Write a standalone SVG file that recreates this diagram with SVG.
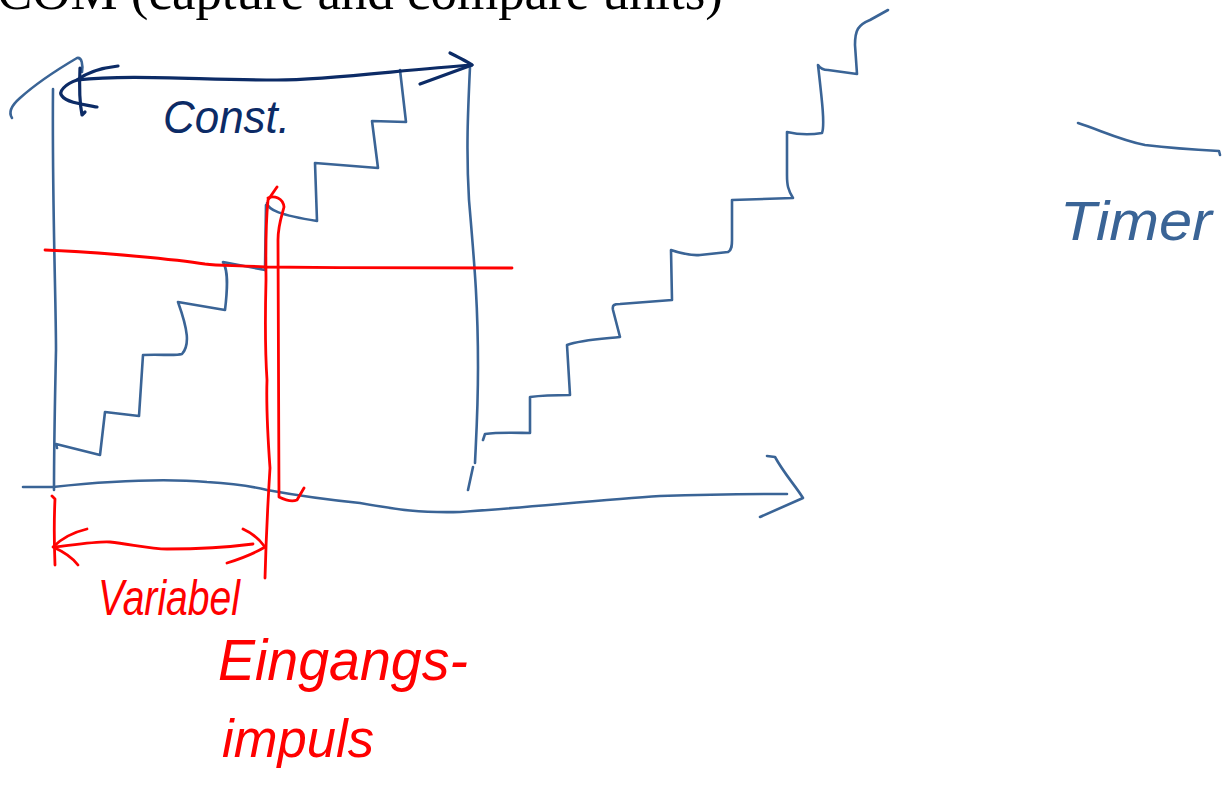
<svg xmlns="http://www.w3.org/2000/svg" width="1232" height="811" viewBox="0 0 1232 811">
<style>
.b{fill:none;stroke:#3a6496;stroke-width:2.6;stroke-linecap:round;stroke-linejoin:round}
.n{fill:none;stroke:#0c2b66;stroke-width:3.2;stroke-linecap:round;stroke-linejoin:round}
.r{fill:none;stroke:#ff0000;stroke-width:2.8;stroke-linecap:round;stroke-linejoin:round}
.hw{font-family:"Liberation Sans","DejaVu Sans",sans-serif;font-style:italic}
</style>
<rect width="1232" height="811" fill="#ffffff"/>
<g id="title">
<text x="-3" y="9" font-family="Liberation Serif, serif" font-size="53" fill="#000000" textLength="726" lengthAdjust="spacingAndGlyphs">COM (capture and compare units)</text>
</g>
<g id="connectors">
<!-- axes -->
<path class="b" d="M53,89 C52,200 56,300 56,350 C55,400 54,440 54,490"/>
<path class="b" d="M23,487 L53,487 C100,482 160,478 207,482 C240,484 255,487 267,490 C300,496 330,500 360,503 C400,510 420,513 460,512 C520,508 600,500 660,496 C720,494 760,494 787,494"/>
<path class="b" d="M767,456 L775,457 C785,475 795,485 803,498 L760,517"/>
<path class="b" d="M470,67 C468,110 466,150 469,200 C474,260 478,300 478,367 C478,410 476,440 475,463 M473,467 L468,490"/>
<path class="b" d="M12,118 C8,112 12,105 20,98 C40,80 60,68 77,58 C82,57 83,65 82,72"/>
<!-- staircases -->
<path class="b" d="M57,448 L56,444 L100,455 L105,412 L139,416 L143,355 C160,354 175,356 182,354 C190,345 188,330 178,302 L225,310 C228,285 228,270 223,262 L265,270"/>
<path class="b" d="M266,205 L265,270"/>
<path class="b" d="M267,203 C268,210 280,215 317,221 L315,163 L378,168 L372,121 L406,122 L400,70"/>
<path class="b" d="M483,440 L485,434 C500,432 520,433 530,433 L530,397 C545,395 560,395 570,395 L567,345 C580,340 600,339 620,337 L613,310 C612,305 614,304 620,304 L672,300 L671,250 C680,253 690,256 700,255 L728,252 C732,250 732,245 732,240 L732,200 L793,198 C788,190 787,185 787,175 L787,132 C800,135 810,135 822,133 C825,125 822,100 818,65 C820,68 822,70 828,70 L857,74 L855,45 C855,30 858,25 870,20 L888,10"/>
<!-- timer line -->
<path class="b" d="M1078,123 C1100,130 1120,140 1145,145 C1170,148 1200,150 1219,151 L1220,155"/>
<!-- Const. arrow -->
<path class="n" d="M472,65 C400,70 330,80 277,80 C200,80 130,74 77,80"/>
<path class="n" d="M118,66 C100,68 85,74 77,80 C65,84 58,92 62,96 C66,102 80,104 97,107"/>
<path class="n" d="M80,68 C79,90 80,105 82,115 L85,112"/>
<path class="n" d="M450,53 C460,58 468,62 472,65 L420,84"/>
<!-- red lines -->
<path class="r" d="M45,250 C100,252 180,260 205,264 C220,266 240,265 265,267 C350,268 450,268 512,268"/>
<path class="r" d="M277,187 L268,200 C265,230 266,260 266,280 C265,320 265,350 267,380 C266,410 268,440 270,468 C268,500 266,540 265,578"/>
<path class="r" d="M268,198 C274,195 283,198 284,207 C282,215 278,225 278,240 L279,497 C285,500 292,502 297,500 L304,488"/>
<path class="r" d="M52,496 L55,499 C54,520 54,540 55,565"/>
<path class="r" d="M55,547 C80,544 100,541 110,542 C130,544 150,549 167,549 C200,549 230,547 253,544"/>
<path class="r" d="M87,529 C70,533 60,540 53,547 C62,551 72,557 78,565"/>
<path class="r" d="M243,529 C252,533 260,540 265,547 C255,553 240,559 227,563"/>
</g>
<g id="label-const">
<text class="hw" x="163" y="133" font-size="46" fill="#0c2b66" textLength="127" lengthAdjust="spacingAndGlyphs">Const.</text>
</g>
<g id="label-timer">
<text class="hw" x="1060" y="240" font-size="56" fill="#3a6496" textLength="152" lengthAdjust="spacingAndGlyphs">Timer</text>
</g>
<g id="label-variabel">
<text class="hw" x="98" y="615" font-size="50" fill="#ff0000" textLength="142" lengthAdjust="spacingAndGlyphs">Variabel</text>
</g>
<g id="label-eingangsimpuls">
<text class="hw" x="218" y="680" font-size="58" fill="#ff0000" textLength="250" lengthAdjust="spacingAndGlyphs">Eingangs-</text>
<text class="hw" x="222" y="757" font-size="54" fill="#ff0000" textLength="152" lengthAdjust="spacingAndGlyphs">impuls</text>
</g>
</svg>
